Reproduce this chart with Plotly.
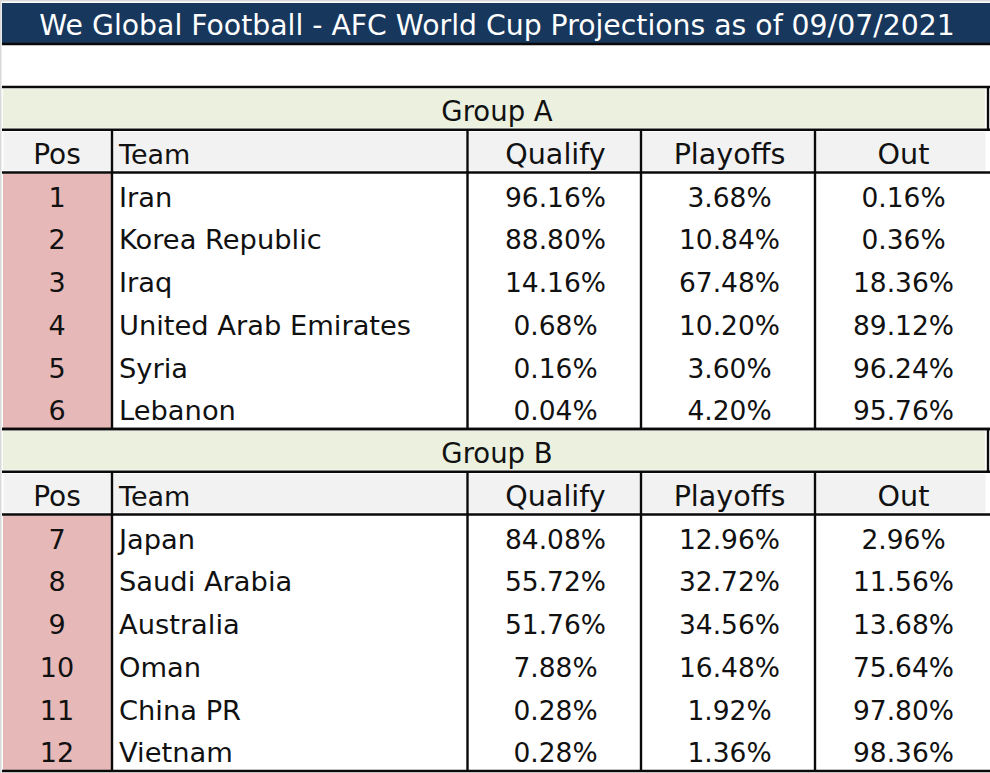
import plotly.graph_objects as go

TITLE = "We Global Football - AFC World Cup Projections as of 09/07/2021"
HEADERS = ["Pos", "Team", "Qualify", "Playoffs", "Out"]

GROUP_A_POS = [1, 2, 3, 4, 5, 6]
GROUP_A_TEAMS = ["Iran", "Korea Republic", "Iraq", "United Arab Emirates", "Syria", "Lebanon"]
GROUP_A_QUALIFY = [96.16, 88.80, 14.16, 0.68, 0.16, 0.04]
GROUP_A_PLAYOFFS = [3.68, 10.84, 67.48, 10.20, 3.60, 4.20]
GROUP_A_OUT = [0.16, 0.36, 18.36, 89.12, 96.24, 95.76]

GROUP_B_POS = [7, 8, 9, 10, 11, 12]
GROUP_B_TEAMS = ["Japan", "Saudi Arabia", "Australia", "Oman", "China PR", "Vietnam"]
GROUP_B_QUALIFY = [84.08, 55.72, 51.76, 7.88, 0.28, 0.28]
GROUP_B_PLAYOFFS = [12.96, 32.72, 34.56, 16.48, 1.92, 1.36]
GROUP_B_OUT = [2.96, 11.56, 13.68, 75.64, 97.80, 98.36]

WIDTH = 990
HEIGHT = 773
FONT = "DejaVu Sans"
INK = "#111111"

# column edges in pixels, the axes below run 0..990 and 773..0
EDGES = [2, 112, 467.5, 641, 815, 987]
CENTERS = [57, None, 555.5, 729.5, 903.5]
TEAM_X = 119
ROW_H = 42.75
TEXT_DROP = 6  # the text sits a little under the middle of its row


def pct(values):
    return [f"{v:.2f}%" for v in values]


def fill(fig, x0, y0, x1, y1, color):
    fig.add_shape(type="rect", x0=x0, x1=x1, y0=y0, y1=y1, fillcolor=color, line_width=0, layer="below")


def hline(fig, y, x0=2, x1=WIDTH, color="#0a0a0a"):
    fig.add_shape(type="line", x0=x0, x1=x1, y0=y, y1=y, line=dict(color=color, width=2.4), layer="below")


def vline(fig, x, y0, y1):
    fig.add_shape(type="line", x0=x, x1=x, y0=y0, y1=y1, line=dict(color="#0a0a0a", width=2.4), layer="below")


def text(fig, xs, ys, labels, size, color=INK, position="middle center"):
    fig.add_trace(go.Scatter(x=xs, y=ys, text=labels, mode="text", textposition=position,
                             textfont=dict(family=FONT, size=size, color=color),
                             hoverinfo="skip", showlegend=False, cliponaxis=False))


def add_group(fig, name, top, pos, teams, qualify, playoffs, out):
    header_top = top + ROW_H
    body_top = header_top + ROW_H
    body_bottom = body_top + 6 * ROW_H
    row_ys = [body_top + (i + 0.5) * ROW_H + TEXT_DROP for i in range(len(pos))]

    fill(fig, 3, top + 2, 985, header_top - 2, "#ebf1de")
    for left, right in zip(EDGES[:-1], EDGES[1:]):
        fill(fig, left + 1.5, header_top + 2, right - 1.5, body_top - 2, "#f2f2f2")
    fill(fig, 3, body_top + 1, EDGES[1], body_bottom - 1, "#e6b8b7")

    hline(fig, top)
    hline(fig, header_top)
    hline(fig, body_top)
    hline(fig, body_bottom)
    for x in EDGES[1:-1]:
        vline(fig, x, header_top, body_bottom)
    vline(fig, 988, top, header_top)

    text(fig, [497], [top + ROW_H / 2 + TEXT_DROP], [name], 27.5)
    text(fig, [CENTERS[0]], [header_top + ROW_H / 2 + TEXT_DROP], [HEADERS[0]], 28)
    text(fig, [TEAM_X], [header_top + ROW_H / 2 + TEXT_DROP], [HEADERS[1]], 27, position="middle right")
    for x, label in zip(CENTERS[2:], HEADERS[2:]):
        text(fig, [x], [header_top + ROW_H / 2 + TEXT_DROP], [label], 28.6)

    text(fig, [CENTERS[0]] * len(pos), row_ys, [str(p) for p in pos], 27)
    text(fig, [TEAM_X] * len(teams), row_ys, teams, 27.3, position="middle right")
    for x, values in zip(CENTERS[2:], [qualify, playoffs, out]):
        text(fig, [x] * len(values), row_ys, pct(values), 26.5)


fig = go.Figure()

# faint window edge on the left and along the top
fill(fig, 0, 0, 1.5, HEIGHT, "#d9d9d9")
fill(fig, 0, 0, WIDTH, 1.5, "#d9d9d9")

fill(fig, 2, 3, WIDTH, 43, "#17375d")
hline(fig, 44)
text(fig, [497], [28], [TITLE], 28.3, color="white")

add_group(fig, "Group A", 87, GROUP_A_POS, GROUP_A_TEAMS, GROUP_A_QUALIFY, GROUP_A_PLAYOFFS, GROUP_A_OUT)
add_group(fig, "Group B", 429, GROUP_B_POS, GROUP_B_TEAMS, GROUP_B_QUALIFY, GROUP_B_PLAYOFFS, GROUP_B_OUT)

fig.update_layout(width=WIDTH, height=HEIGHT, margin=dict(l=0, r=0, t=0, b=0),
                  paper_bgcolor="white", plot_bgcolor="white")
fig.update_xaxes(range=[0, WIDTH], visible=False, fixedrange=True)
fig.update_yaxes(range=[HEIGHT, 0], visible=False, fixedrange=True)

# the default body margin would push the table off the window
fig.write_html("out.html", config=dict(displayModeBar=False),
               post_script="document.body.style.margin='0';document.body.style.overflow='hidden';")
